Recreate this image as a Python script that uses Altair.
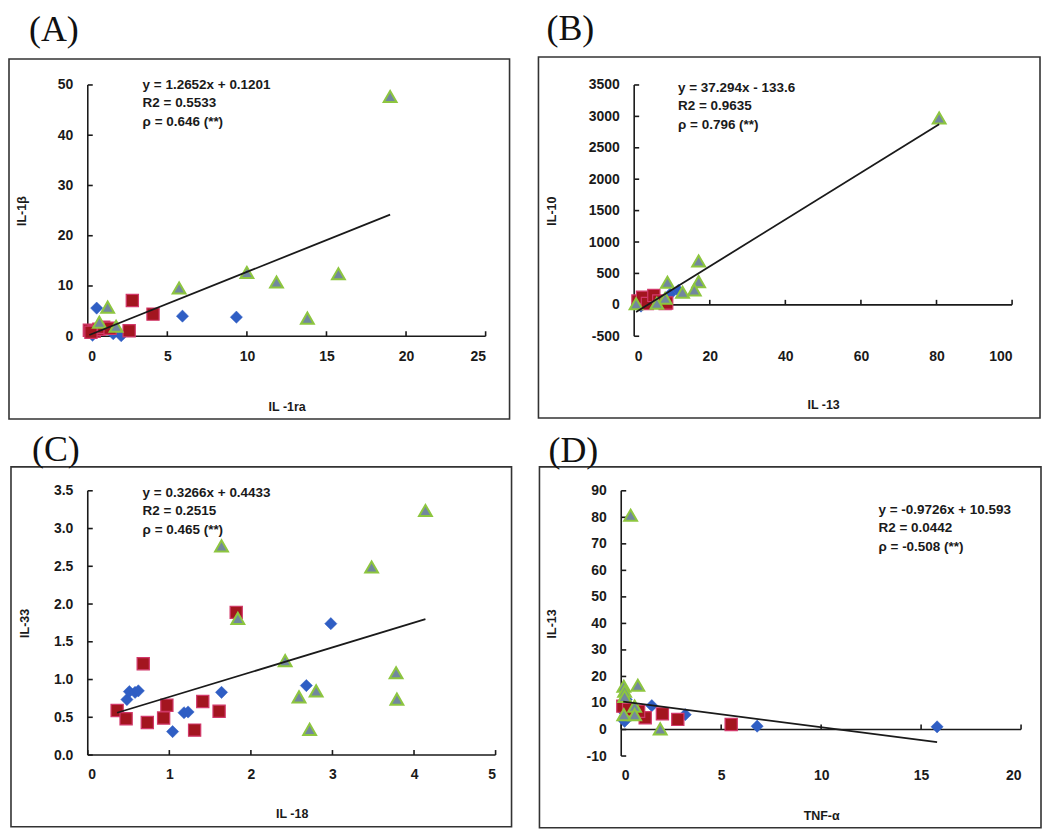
import altair as alt
import pandas as pd

# ---------------- data ----------------
# Panel A: IL-1ra vs IL-1beta
A_blue_x = [0.56, 5.95, 9.34, 0.3, 1.6, 2.1, 0.2]
A_blue_y = [5.6, 4.0, 3.8, 0.2, 0.5, 0.1, 1.0]
A_red_x = [2.8, 4.1, 2.6, 0.1, 0.4, 0.7, 1.0, 1.4, 0.2]
A_red_y = [7.1, 4.4, 1.1, 1.2, 1.0, 1.4, 1.8, 1.6, 0.8]
A_green_x = [19.0, 10.0, 11.86, 15.75, 5.74, 13.8, 1.25, 0.73, 1.78]
A_green_y = [47.7, 12.7, 10.8, 12.45, 9.6, 3.6, 5.8, 2.8, 2.0]
A_line_x = [0.1, 19.0]
A_line_y = [0.25, 24.2]

# Panel B: IL-13 vs IL-10
B_blue_x = [9.5, 11.7, 1.8, 0.8]
B_blue_y = [170, 230, -20, 10]
B_red_x = [1.0, 2.2, 3.5, 5.2, 6.5, 8.2, 8.6]
B_red_y = [60, 120, 20, 150, 60, 20, 30]
B_green_x = [80.7, 17.05, 17.05, 15.9, 8.8, 12.8, 8.2, 6.0, 0.5]
B_green_y = [2974, 698, 370, 238, 360, 200, 105, 26, 16]
B_line_x = [0.5, 80.7]
B_line_y = [-115, 2876]

# Panel C: IL-18 vs IL-33
C_blue_x = [0.48, 0.51, 0.58, 0.62, 1.18, 1.23, 1.04, 1.64, 2.68, 2.98]
C_blue_y = [0.735, 0.84, 0.83, 0.85, 0.56, 0.57, 0.31, 0.83, 0.92, 1.74]
C_red_x = [0.36, 0.47, 0.68, 0.73, 0.97, 0.93, 1.31, 1.41, 1.61, 1.82]
C_red_y = [0.59, 0.48, 1.21, 0.43, 0.66, 0.49, 0.33, 0.71, 0.58, 1.89]
C_green_x = [1.64, 1.84, 2.42, 2.59, 2.72, 2.80, 3.48, 3.78, 3.79, 4.14]
C_green_y = [2.77, 1.81, 1.25, 0.77, 0.34, 0.85, 2.49, 1.09, 0.74, 3.24]
C_line_x = [0.36, 4.14]
C_line_y = [0.56, 1.80]

# Panel D: TNF-alpha vs IL-13
D_blue_x = [1.53, 3.2, 6.8, 15.8, 0.17, 0.25, 0.1]
D_blue_y = [9.0, 5.6, 1.25, 1.0, 3.1, 11.3, 6.9]
D_red_x = [0.08, 0.37, 1.2, 2.06, 2.83, 5.5, 0.87]
D_red_y = [8.8, 7.5, 4.4, 5.9, 3.8, 1.9, 6.9]
D_green_x = [0.47, 0.83, 0.13, 0.17, 0.17, 0.67, 0.67, 0.13, 1.95]
D_green_y = [80.8, 16.7, 16.3, 14.4, 12.5, 8.8, 5.6, 5.6, 0.25]
D_line_x = [0.1, 15.8]
D_line_y = [10.5, -4.8]

ann_A = "y = 1.2652x + 0.1201\nR2 = 0.5533\nρ = 0.646 (**)"
ann_B = "y = 37.294x - 133.6\nR2 = 0.9635\nρ = 0.796 (**)"
ann_C = "y = 0.3266x + 0.4433\nR2 = 0.2515\nρ = 0.465 (**)"
ann_D = "y = -0.9726x + 10.593\nR2 = 0.0442\nρ = -0.508 (**)"

# ---------------- styling ----------------
FONT = "Liberation Sans"
INK = "#1a1a1a"
BLUE = "#2F5EC4"
RED_FILL = "#A3151F"
RED_STROKE = "#D2386A"
TRI_FILL = "#72879E"
TRI_STROKE = "#8DC63F"


def panel(bx, by, rx, ry, gx, gy, lx, ly, xdom, xticks, ydom, yticks, yfmt,
          xtitle, ytitle, w, h, xtitle_y, ytitle_x, ann, ann_x, ann_y,
          label, lab_x, lab_y, box):
    xs = alt.Scale(domain=xdom, nice=False, zero=False)
    ys = alt.Scale(domain=ydom, nice=False, zero=False)
    if yfmt:
        ylabexpr = "format(datum.value, '.1f')"
    else:
        ylabexpr = "'' + datum.value"

    xaxis_lab = alt.Axis(values=xticks, orient="bottom", domain=False, ticks=False,
                         grid=False, labelPadding=13, title=xtitle,
                         labelExpr="'' + datum.value",
                         titleX=w / 2, titleY=xtitle_y, titleBaseline="middle")
    yaxis_lab = alt.Axis(values=yticks, orient="left", domain=False, ticks=False,
                         grid=False, labelPadding=15, title=ytitle,
                         labelExpr=ylabexpr,
                         titleX=ytitle_x, titleY=h / 2, titleBaseline="middle",
                         titleAngle=-90, titleAlign="center")

    def pts(xv, yv, shape, fill, stroke, sw, size, xa, ya, op=1):
        df = pd.DataFrame({"x": xv, "y": yv})
        return alt.Chart(df).mark_point(
            shape=shape, filled=True, fill=fill, stroke=stroke, strokeWidth=sw,
            size=size, opacity=op
        ).encode(
            x=alt.X("x:Q", scale=xs, axis=xa),
            y=alt.Y("y:Q", scale=ys, axis=ya),
        )

    # invisible carrier layer for the labelled axes
    carrier = pts(bx, by, "diamond", BLUE, BLUE, 0, 1, xaxis_lab, yaxis_lab, op=0)
    blue = pts(bx, by, "diamond", BLUE, BLUE, 0.5, 150, None, None)
    red = pts(rx, ry, "square", RED_FILL, RED_STROKE, 1.2, 150, None, None)
    green = pts(gx, gy, "triangle-up", TRI_FILL, TRI_STROKE, 2, 165, None, None)

    one = pd.DataFrame({"k": [0]})
    # axis line along y = 0
    xline = alt.Chart(one).mark_rule(color=INK, strokeWidth=1.6).encode(
        x=alt.datum(xdom[0], scale=xs, axis=None),
        x2=alt.datum(xdom[1]),
        y=alt.datum(0, scale=ys, axis=None),
    )
    # axis line along x = 0
    yline = alt.Chart(one).mark_rule(color=INK, strokeWidth=1.6).encode(
        x=alt.datum(0, scale=xs, axis=None),
        y=alt.datum(ydom[0], scale=ys, axis=None),
        y2=alt.datum(ydom[1]),
    )
    xt = alt.Chart(pd.DataFrame({"v": xticks})).mark_rule(
        color=INK, strokeWidth=1.6, y2Offset=-5
    ).encode(
        x=alt.X("v:Q", scale=xs, axis=None),
        y=alt.datum(0, scale=ys, axis=None),
        y2=alt.datum(0),
    )
    yt = alt.Chart(pd.DataFrame({"v": yticks})).mark_rule(
        color=INK, strokeWidth=1.6, x2Offset=5
    ).encode(
        y=alt.Y("v:Q", scale=ys, axis=None),
        x=alt.datum(0, scale=xs, axis=None),
        x2=alt.datum(0),
    )

    line = alt.Chart(pd.DataFrame({"x": lx, "y": ly})).mark_line(
        color=INK, strokeWidth=1.8
    ).encode(
        x=alt.X("x:Q", scale=xs, axis=None),
        y=alt.Y("y:Q", scale=ys, axis=None),
    )

    annot = alt.Chart(pd.DataFrame({"t": [ann]})).mark_text(
        font=FONT, fontWeight="bold", fontSize=13.5, align="left", baseline="top",
        lineBreak="\n", lineHeight=18.5, color=INK
    ).encode(x=alt.value(ann_x), y=alt.value(ann_y), text="t:N")

    frame = alt.Chart(one).mark_rect(
        fillOpacity=0, stroke="#333333", strokeWidth=1.6
    ).encode(
        x=alt.value(box[0]), x2=alt.value(w + box[1]),
        y=alt.value(box[2]), y2=alt.value(h + box[3]),
    )

    lab = alt.Chart(one).mark_text(
        font="Liberation Serif", fontSize=36, align="left", baseline="alphabetic",
        color="#111111"
    ).encode(x=alt.value(lab_x), y=alt.value(lab_y), text=alt.value(label))

    return alt.layer(carrier, xline, yline, xt, yt, blue, red, green, line,
                     annot, frame, lab).resolve_axis(
        x="independent", y="independent"
    ).properties(width=w, height=h)


pA = panel(A_blue_x, A_blue_y, A_red_x, A_red_y, A_green_x, A_green_y, A_line_x, A_line_y,
           [0, 25], [0, 5, 10, 15, 20, 25], [0, 50], [0, 10, 20, 30, 40, 50], False,
           "IL -1ra", "IL-1β", 399, 252, 70, -66, ann_A, 55, -7,
           "(A)", -59, -44, (-79, 24, -26, 83))

pB = panel(B_blue_x, B_blue_y, B_red_x, B_red_y, B_green_x, B_green_y, B_line_x, B_line_y,
           [0, 100], [0, 20, 40, 60, 80, 100], [-500, 3500],
           [-500, 0, 500, 1000, 1500, 2000, 2500, 3000, 3500], False,
           "IL -13", "IL-10", 379, 252, 68, -83, ann_B, 44, -4,
           "(B)", -88, -45, (-96, 28, -28, 82))

pC = panel(C_blue_x, C_blue_y, C_red_x, C_red_y, C_green_x, C_green_y, C_line_x, C_line_y,
           [0, 5], [0, 1, 2, 3, 4, 5], [0, 3.5], [0, 0.5, 1.0, 1.5, 2.0, 2.5, 3.0, 3.5], True,
           "IL -18", "IL-33", 409, 265, 59, -63, ann_C, 55, -5,
           "(C)", -56, -30, (-77, 16, -24, 72))

pD = panel(D_blue_x, D_blue_y, D_red_x, D_red_y, D_green_x, D_green_y, D_line_x, D_line_y,
           [0, 20], [0, 5, 10, 15, 20], [-10, 90],
           [-10, 0, 10, 20, 30, 40, 50, 60, 70, 80, 90], False,
           "TNF-α", "IL-13", 401, 266, 60, -70, ann_D, 258, 12,
           "(D)", -73, -29, (-82, 20, -24, 72))

chart = alt.vconcat(
    alt.hconcat(pA, pB, spacing=27),
    alt.hconcat(pC, pD, spacing=26),
    spacing=12,
).properties(
    padding={"left": 0, "top": 2, "right": 0, "bottom": 0},
    background="white",
).configure_view(stroke=None).configure_axis(
    labelFont=FONT, labelFontWeight="bold", labelFontSize=14, labelColor=INK,
    titleFont=FONT, titleFontWeight="bold", titleFontSize=12.5, titleColor=INK,
    domainColor=INK, tickColor=INK,
)

chart.save("out.html", embed_options={"renderer": "svg", "actions": False})
